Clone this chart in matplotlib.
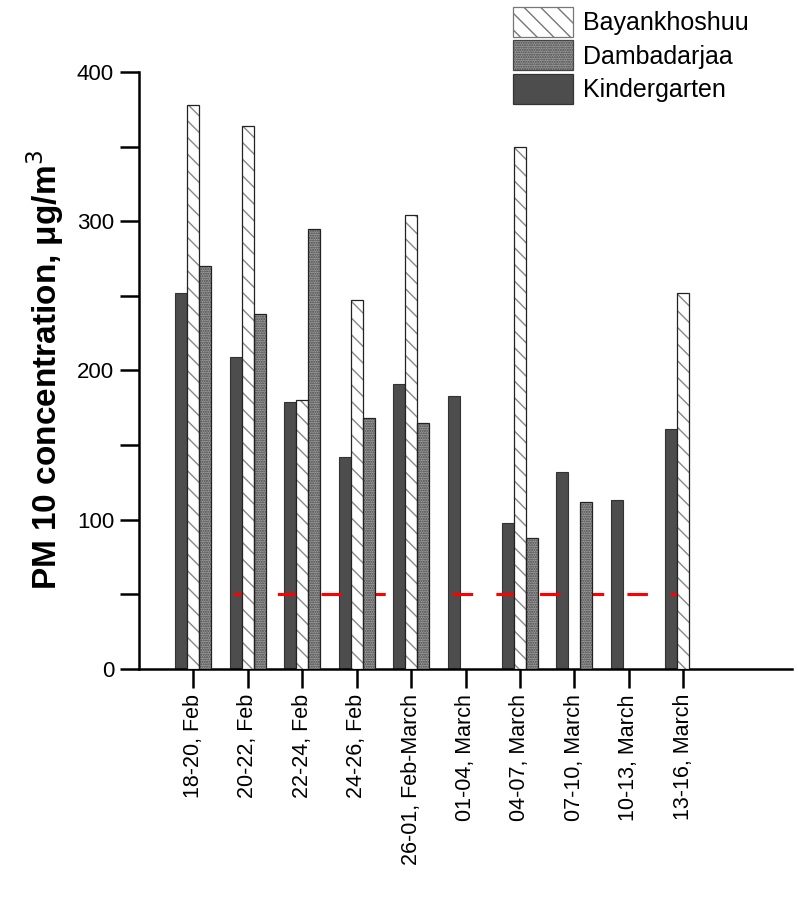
import matplotlib
matplotlib.use("Agg")
import matplotlib.pyplot as plt
import numpy as np
from matplotlib.patches import Patch

plt.rcParams['font.family'] = ['Liberation Sans', 'DejaVu Sans']

# periods (x tick labels)
periods = ["18-20, Feb", "20-22, Feb", "22-24, Feb", "24-26, Feb", "26-01, Feb-March",
           "01-04, March", "04-07, March", "07-10, March", "10-13, March", "13-16, March"]

# PM10 values, µg/m3 (nan = no data)
kindergarten = [252, 209, 179, 142, 191, 183, 98, 132, 113, 161]
bayankhoshuu = [378, 364, 180, 247, 304, np.nan, 350, np.nan, np.nan, 252]
dambadarjaa = [270, 238, 295, 168, 165, np.nan, 88, 112, np.nan, np.nan]

norm_value = 50  # daily standard

x = np.arange(1, len(periods) + 1)
w = 0.22

fig = plt.figure(figsize=(7.98, 9.02), dpi=100)
ax = fig.add_axes([0.1742, 0.2583, 0.8183, 0.6619])

# kindergarten: solid dark grey
ax.bar(x - w, kindergarten, w, color="#4d4d4d", edgecolor="#333333", lw=0.8, zorder=2)

# red dashed standard line: over the dark bars, under the patterned ones
ax.plot([0.94, 10.0], [norm_value, norm_value], color="red", lw=2.2,
        dashes=(6.7, 7.6), zorder=2.5)

# bayankhoshuu: white with grey diagonal hatch
ax.bar(x, bayankhoshuu, w, color="white", edgecolor="#888888", hatch="\\\\",
       lw=0, zorder=3)
ax.bar(x, bayankhoshuu, w, fill=False, edgecolor="#222222", lw=0.9, zorder=4)

# dambadarjaa: fine grey dot pattern
ax.bar(x + w, dambadarjaa, w, color="#9e9e9e", edgecolor="#444444", hatch=".......",
       lw=0, zorder=3)
ax.bar(x + w, dambadarjaa, w, fill=False, edgecolor="#222222", lw=0.9, zorder=4)

ax.set_xlim(0, 12)
ax.set_ylim(0, 400)
ax.set_xticks(x)
ax.set_xticklabels(periods, rotation=90, fontsize=15.5)
ax.set_yticks([0, 100, 200, 300, 400])
ax.set_yticks([50, 150, 250, 350], minor=True)
ax.tick_params(axis="both", which="both", direction="out", length=14, width=1.8)
ax.tick_params(axis="x", pad=4)
ax.tick_params(axis="y", labelsize=16, pad=4)
ax.tick_params(axis="y", which="minor", labelleft=False)

for s in ["top", "right"]:
    ax.spines[s].set_visible(False)
for s in ["left", "bottom"]:
    ax.spines[s].set_linewidth(1.8)

ax.set_ylabel("PM 10 concentration, μg/m$^3$", fontsize=24, fontweight="bold",
              labelpad=8)

handles = [
    Patch(facecolor="white", edgecolor="#777777", hatch="\\\\", lw=0.9),
    Patch(facecolor="#9e9e9e", edgecolor="#444444", hatch=".......", lw=0.9),
    Patch(facecolor="#4d4d4d", edgecolor="#333333", lw=0.9),
]
fig.legend(handles, ["Bayankhoshuu", "Dambadarjaa", "Kindergarten"],
           loc="upper left", bbox_to_anchor=(513 / 798, 1 - 7 / 902),
           frameon=False, fontsize=18, handlelength=2.4, handleheight=1.45,
           labelspacing=0.15, borderpad=0, borderaxespad=0, handletextpad=0.4)

fig.savefig("out.png", dpi=100)
